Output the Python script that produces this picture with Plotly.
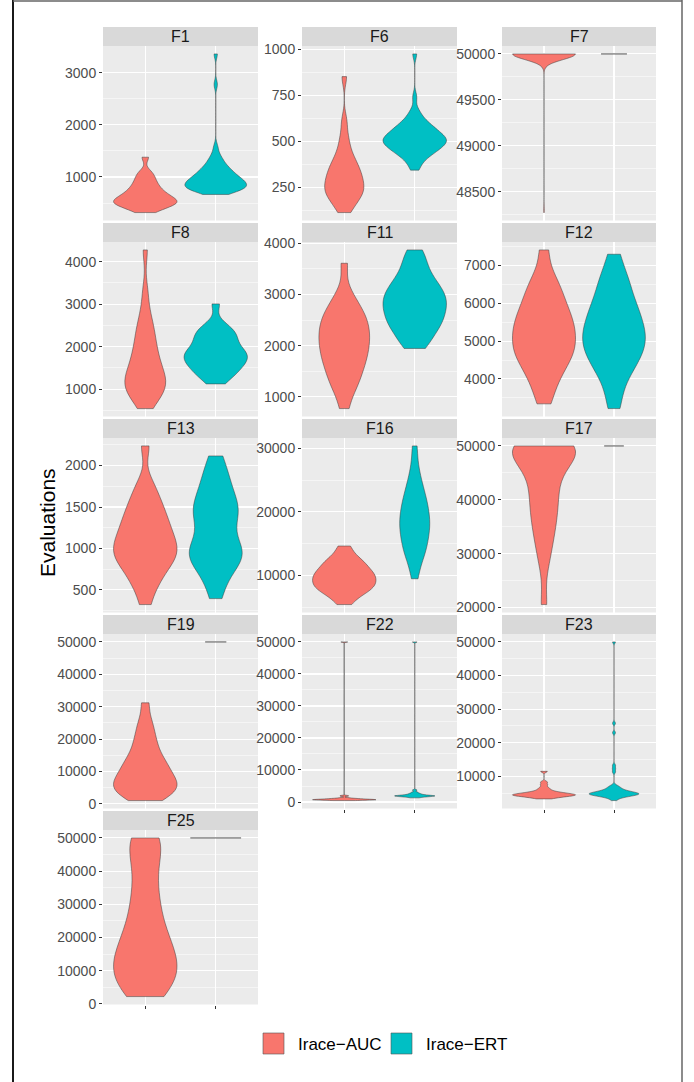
import numpy as np
import plotly.graph_objects as go

W, H = 694, 1082
FONT = "Liberation Sans, Arial, Helvetica, sans-serif"

groups = ["Irace−AUC", "Irace−ERT"]
colors = ["#F8766D", "#00BFC4"]
panels = ["F1", "F6", "F7", "F8", "F11", "F12", "F13", "F16", "F17", "F19", "F22", "F23", "F25"]

# ---- evaluations per run ----
F1_AUC = [317, 370, 410, 440, 460, 480, 495, 510, 525, 545, 565, 585, 605, 630, 660, 690, 720, 760, 800, 850, 900, 960, 1030, 1100, 1380]
F1_ERT = [665, 690, 710, 725, 738, 748, 758, 768, 778, 788, 798, 808, 818, 828, 838, 848, 858, 866, 876, 888, 900, 912,
          924, 936, 948, 960, 972, 985, 997, 1010, 1028, 1046, 1064, 1083, 1102, 1122, 1142, 1163, 1185, 1215, 1250,
          1290, 1330, 1375, 1450, 1580, 2775, 3362]
F6_AUC = [114, 140, 170, 185, 200, 215, 225, 235, 245, 260, 272, 285, 298, 310, 325, 340, 355, 370, 390, 410, 440, 480, 530, 610, 851]
F6_ERT = [344, 365, 390, 402, 413, 423, 431, 440, 445, 450, 455, 460, 465, 470, 475, 480, 485, 489, 493, 497, 500, 503,
          506, 510, 514, 518, 522, 526, 530, 535, 540, 545, 550, 556, 562, 568, 574, 578, 586, 595, 605, 616, 628, 648,
          672, 740, 974]
F7_AUC = [48275] + [50000] * 99
F7_ERT = [50000] * 25
F8_AUC = [544, 740, 830, 900, 960, 1020, 1080, 1140, 1200, 1260, 1330, 1400, 1460, 1580, 1680, 1780, 1880, 2000, 2150, 2300, 2420, 2600, 2850, 3300, 4278]
F8_ERT = [1125, 1250, 1330, 1400, 1460, 1510, 1570, 1620, 1670, 1710, 1750, 1790, 1830, 1870, 1920, 1970, 2020, 2120, 2180, 2240, 2300, 2370, 2440, 2550, 3007]
F11_AUC = [773, 1100, 1200, 1330, 1430, 1520, 1620, 1700, 1760, 1840, 1910, 1980, 2050, 2120, 2180, 2240, 2310, 2380, 2450, 2520, 2590, 2670, 2750, 2880, 3050, 3611]
F11_ERT = [1947, 2050, 2170, 2270, 2340, 2410, 2470, 2530, 2590, 2650, 2710, 2770, 2820, 2870, 2920, 2980, 3040, 3100, 3160, 3230, 3320, 3420, 3560, 3700, 3871]
F12_AUC = [3340, 3700, 3950, 4150, 4300, 4450, 4570, 4650, 4750, 4850, 4950, 5050, 5150, 5250, 5350, 5450, 5550, 5650, 5780, 5900, 6050, 6200, 6380, 6550, 6800, 7414]
F12_ERT = [3215, 3650, 4000, 4200, 4350, 4500, 4620, 4730, 4830, 4930, 5030, 5130, 5230, 5330, 5430, 5550, 5680, 5800, 5930, 6060, 6250, 6450, 6650, 6850, 7300]
F13_AUC = [323, 520, 600, 680, 760, 810, 850, 890, 930, 965, 1000, 1040, 1080, 1120, 1170, 1220, 1270, 1320, 1380, 1440, 1510, 1580, 1680, 1800, 2237]
F13_ERT = [395, 560, 690, 760, 820, 870, 910, 940, 970, 1010, 1060, 1120, 1220, 1300, 1370, 1420, 1460, 1500, 1560, 1620, 1700, 1790, 1860, 1980, 2116]
F16_AUC = [5420, 6300, 6900, 7300, 7600, 7900, 8150, 8400, 8650, 8900, 9150, 9400, 9650, 9900, 10150, 10400, 10650, 10950, 11300, 11650, 12000, 12400, 12800, 13600, 14630]
F16_ERT = [9480, 11500, 12800, 13500, 14100, 14700, 15400, 16000, 16600, 17100, 17600, 18100, 18600, 19100, 19600, 20200, 20800, 21400, 22000, 22600, 23500, 24500, 25500, 27500, 30380]
F17_AUC = [20560, 28000, 31000, 33000, 34800, 36300, 37700, 39000, 40300, 41600, 42900, 44200, 45500, 46600, 47500, 48200, 48800, 49300, 49700, 50000, 50000, 50000, 50000, 50000, 50000]
F17_ERT = [50000] * 25
F19_AUC = [1020, 1900, 2700, 3300, 3900, 4500, 5100, 5700, 6300, 6900, 7500, 8100, 8900, 9800, 10700, 11600, 12400, 13300, 14500, 15800, 17500, 19300, 21000, 23500, 26000, 31200]
F19_ERT = [50000] * 25
F22_AUC = [450, 520, 560, 600, 630, 650, 680, 700, 720, 750, 780, 800, 830, 860, 900, 950, 1000, 1050, 1100, 1200, 1350, 1800, 2000, 50000]
F22_ERT = [1300, 1500, 1600, 1700, 1750, 1800, 1850, 1880, 1900, 1950, 2000, 2050, 2100, 2200, 2300, 2450, 2600, 2800, 3100, 3700, 50000]
F23_AUC = [3300, 3600, 3800, 3950, 4050, 4150, 4250, 4350, 4400, 4500, 4550, 4600, 4700, 4800, 4900, 5000, 5150, 5300, 5500, 5800, 6200, 6700, 7500, 8300, 11500]
F23_ERT = [2800, 3300, 3600, 3800, 3950, 4050, 4150, 4250, 4320, 4390, 4450, 4510, 4570, 4620, 4670, 4720, 4770, 4820,
           4870, 4920, 4970, 5030, 5090, 5150, 5220, 5300, 5380, 5470, 5570, 5680, 5800, 5950, 6100, 6300, 6500, 6750,
           7000, 7300, 11300, 12300, 13300, 23000, 25800, 50000]
F25_AUC = [2220, 3800, 5000, 6200, 7700, 9000, 10300, 11500, 12700, 14000, 15500, 17000, 18500, 20500, 22500, 25000, 28000, 31000, 34000, 38000, 42000, 46000, 48500, 50000, 50000]
F25_ERT = [50000] * 25

data = {
    "F1": (F1_AUC, F1_ERT), "F6": (F6_AUC, F6_ERT), "F7": (F7_AUC, F7_ERT),
    "F8": (F8_AUC, F8_ERT), "F11": (F11_AUC, F11_ERT), "F12": (F12_AUC, F12_ERT),
    "F13": (F13_AUC, F13_ERT), "F16": (F16_AUC, F16_ERT), "F17": (F17_AUC, F17_ERT),
    "F19": (F19_AUC, F19_ERT), "F22": (F22_AUC, F22_ERT), "F23": (F23_AUC, F23_ERT),
    "F25": (F25_AUC, F25_ERT),
}

# ---- tick labels per panel ----
TICKS_F1 = [1000, 2000, 3000]
TICKS_F6 = [250, 500, 750, 1000]
TICKS_F7 = [48500, 49000, 49500, 50000]
TICKS_F8 = [1000, 2000, 3000, 4000]
TICKS_F11 = [1000, 2000, 3000, 4000]
TICKS_F12 = [3000, 4000, 5000, 6000, 7000]
TICKS_F13 = [500, 1000, 1500, 2000]
TICKS_F16 = [10000, 20000, 30000]
TICKS_F17 = [20000, 30000, 40000, 50000]
TICKS_50K = [0, 10000, 20000, 30000, 40000, 50000]
ticks = {"F1": TICKS_F1, "F6": TICKS_F6, "F7": TICKS_F7, "F8": TICKS_F8, "F11": TICKS_F11,
         "F12": TICKS_F12, "F13": TICKS_F13, "F16": TICKS_F16, "F17": TICKS_F17,
         "F19": TICKS_50K, "F22": TICKS_50K, "F23": TICKS_50K, "F25": TICKS_50K}

# ---- styling / layout ----
N_RUNS = 100  # runs per configuration in the original experiment (for the KDE bandwidth)
minor_step = {"F1": 500, "F6": 125, "F7": 250, "F8": 500, "F11": 500, "F12": 500, "F13": 250,
              "F16": 5000, "F17": 5000, "F19": 5000, "F22": 5000, "F23": 5000, "F25": 5000}
const_width = {"F7": 0.37, "F17": 0.28, "F19": 0.30, "F25": 0.72}
bottom_panels = {"F25", "F22", "F23"}
col_px = [(103, 258), (302, 457), (502, 656)]
STRIP_H, PANEL_H, ROW_STEP, TOP0 = 19, 174.5, 196, 27


def nrd0(v):
    v = np.asarray(v, float)
    if v.max() == v.min():
        return None
    sd = v.std(ddof=1)
    q1, q3 = np.percentile(v, [25, 75])
    lo = min(sd, (q3 - q1) / 1.34)
    if lo == 0:
        lo = sd
    return float(0.9 * lo * N_RUNS ** -0.2)


fig = go.Figure()
shapes, annotations = [], []
layout_axes = {}

for i, name in enumerate(panels):
    r, c = divmod(i, 3)
    suf = "" if i == 0 else str(i + 1)
    x0, x1 = col_px[c]
    st = TOP0 + ROW_STEP * r
    pt = st + STRIP_H
    pb = pt + PANEL_H

    auc, ert = data[name]
    allv = list(auc) + list(ert)
    lo, hi = min(allv), max(allv)
    pad = 0.05 * (hi - lo)

    for g, vals in enumerate((auc, ert)):
        const = min(vals) == max(vals)
        kw = dict(
            x=[g] * len(vals), y=vals, xaxis="x" + suf, yaxis="y" + suf,
            name=groups[g], showlegend=False, fillcolor=colors[g],
            line=dict(color="#3a3a3a", width=0.5), points=False,
            spanmode="hard", box_visible=False, meanline_visible=False,
            hoverinfo="skip",
        )
        if const:
            kw["width"] = const_width[name]
        else:
            kw["scalegroup"] = name
            kw["scalemode"] = "width"
            kw["bandwidth"] = nrd0(vals)
        fig.add_trace(go.Violin(**kw))

    layout_axes["xaxis" + suf] = dict(
        domain=[x0 / W, x1 / W], anchor="y" + suf, type="linear", range=[-0.6, 1.6],
        tickvals=[0, 1], showticklabels=False, showgrid=True, gridcolor="white",
        gridwidth=1.1, zeroline=False, showline=False, automargin=False,
        ticks="outside" if name in bottom_panels else "", ticklen=3, tickwidth=1,
        tickcolor="#333333", fixedrange=True,
    )
    layout_axes["yaxis" + suf] = dict(
        domain=[1 - pb / H, 1 - pt / H], anchor="x" + suf, range=[lo - pad, hi + pad],
        tickmode="array", tickvals=ticks[name], ticktext=[str(t) for t in ticks[name]],
        tickfont=dict(size=14, color="#4D4D4D", family=FONT), ticks="outside",
        ticklen=3, tickwidth=1, tickcolor="#333333", showgrid=True, automargin=False,
        gridcolor="white", gridwidth=1.1, zeroline=False, showline=False,
        minor=dict(tickmode="linear", tick0=0, dtick=minor_step[name], showgrid=True,
                   gridcolor="white", gridwidth=0.5, ticks=""),
        fixedrange=True,
    )
    # strip
    shapes.append(dict(type="rect", xref="paper", yref="paper", x0=x0 / W, x1=x1 / W,
                       y0=1 - pt / H, y1=1 - st / H, fillcolor="#D9D9D9",
                       line=dict(width=0), layer="below"))
    annotations.append(dict(text=name, xref="paper", yref="paper", x=(x0 + x1) / 2 / W,
                            y=1 - (st + pt) / 2 / H, showarrow=False, xanchor="center",
                            yanchor="middle", font=dict(size=16, color="#1A1A1A", family=FONT)))

# y title
annotations.append(dict(text="Evaluations", xref="paper", yref="paper", x=47 / W, y=1 - 522 / H,
                        showarrow=False, textangle=-90, xanchor="center", yanchor="middle",
                        font=dict(size=21, color="black", family=FONT)))

# legend (drawn manually to match key size)
legend_key_x = [263, 391]
for g in range(2):
    kx = legend_key_x[g]
    shapes.append(dict(type="rect", xref="paper", yref="paper", x0=kx / W, x1=(kx + 21) / W,
                       y0=1 - 1054 / H, y1=1 - 1033 / H, fillcolor=colors[g],
                       line=dict(color="#555555", width=0.6)))
    annotations.append(dict(text=groups[g], xref="paper", yref="paper", x=(kx + 33) / W,
                            y=1 - 1044 / H, showarrow=False, xanchor="left", yanchor="middle",
                            font=dict(size=17, color="black", family=FONT)))

# outer frame
shapes.append(dict(type="line", xref="paper", yref="paper", x0=13 / W, x1=13 / W, y0=0, y1=1,
                   line=dict(color="black", width=1.8)))
shapes.append(dict(type="line", xref="paper", yref="paper", x0=13 / W, x1=682 / W,
                   y0=1 - 1 / H, y1=1 - 1 / H, line=dict(color="#666666", width=1.5)))
shapes.append(dict(type="line", xref="paper", yref="paper", x0=682 / W, x1=682 / W, y0=0, y1=1,
                   line=dict(color="#666666", width=1.5)))

fig.update_layout(
    width=W, height=H, margin=dict(l=0, r=0, t=0, b=0, pad=0, autoexpand=False),
    paper_bgcolor="white", plot_bgcolor="#EBEBEB",
    violinmode="overlay", violingap=0.1, violingroupgap=0,
    showlegend=False, shapes=shapes, annotations=annotations,
    font=dict(family=FONT), **layout_axes,
)

fig.write_html(
    "out.html",
    config={"displayModeBar": False, "staticPlot": True},
    post_script="document.body.style.margin='0px';document.body.style.overflow='hidden';",
)
